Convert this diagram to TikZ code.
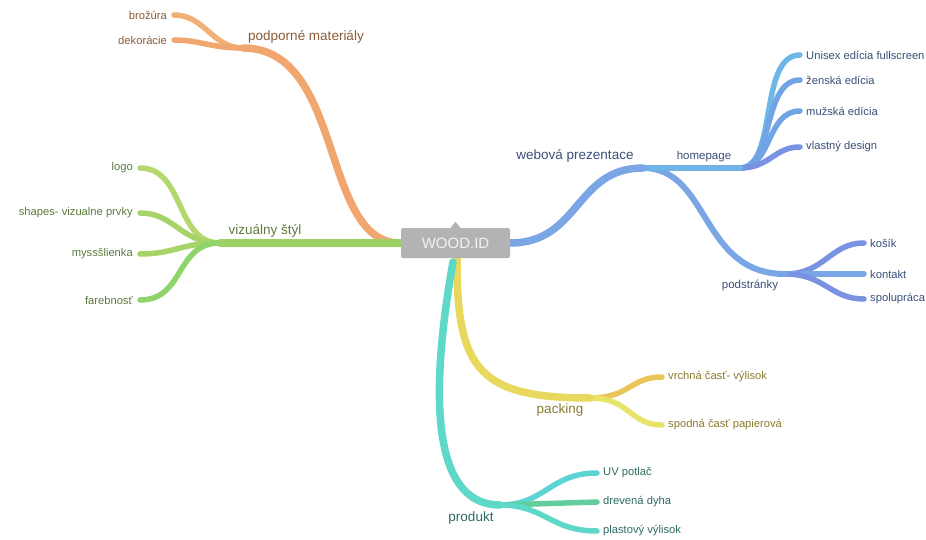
\documentclass[tikz,border=0pt]{standalone}
\usepackage{fontspec}
\setmainfont{Liberation Sans}
\usepackage{tikz}
\usetikzlibrary{arrows.meta,positioning}
\definecolor{RootGray}{RGB}{179,179,179}
\definecolor{RootText}{RGB}{242,242,242}
\definecolor{SoftOrange}{RGB}{240,166,110}
\definecolor{LightOrange}{RGB}{242,176,118}
\definecolor{BrownText}{RGB}{140,90,52}
\definecolor{MainGreen}{RGB}{156,210,100}
\definecolor{LimeGreen}{RGB}{180,216,110}
\definecolor{LeafGreen}{RGB}{166,212,104}
\definecolor{DeepGreen}{RGB}{142,212,106}
\definecolor{GreenText}{RGB}{92,122,60}
\definecolor{MainBlue}{RGB}{122,166,230}
\definecolor{SkyBlue}{RGB}{110,184,232}
\definecolor{MidBlue}{RGB}{112,164,228}
\definecolor{PurpleBlue}{RGB}{122,146,226}
\definecolor{BlueText}{RGB}{58,79,122}
\definecolor{MainYellow}{RGB}{232,216,94}
\definecolor{GoldYellow}{RGB}{234,198,90}
\definecolor{PaleYellow}{RGB}{232,228,106}
\definecolor{YellowText}{RGB}{138,123,46}
\definecolor{MainTeal}{RGB}{94,216,200}
\definecolor{CyanTeal}{RGB}{92,212,212}
\definecolor{MintGreen}{RGB}{98,206,158}
\definecolor{TealText}{RGB}{46,107,98}

\begin{document}
\begin{tikzpicture}[x=1pt, y=-1pt,
    mainbranch/.style={line width=7.5pt, line cap=round},
    subbranch/.style={line width=6pt, line cap=round},
    leafbranch/.style={line width=5.5pt, line cap=round},
    mainlabel/.style={font=\fontsize{13.5}{16}\selectfont, inner sep=0pt},
    sublabel/.style={font=\fontsize{11.5}{14}\selectfont, inner sep=0pt},
    leaf/.style={font=\fontsize{11.2}{13}\selectfont, inner sep=0pt}]
    \useasboundingbox (0,0) rectangle (926,540);

    \coordinate (podj) at (243,48);
    \coordinate (vizj) at (220,243);
    \coordinate (webj) at (643,168);
    \coordinate (homej) at (740,168);
    \coordinate (podstj) at (785,274);
    \coordinate (packj) at (590,398);
    \coordinate (prodj) at (500,505);

    \node [mainlabel, text=BrownText] (podporne) at (306,37) {podporné materiály};
    \node [leaf, text=BrownText, anchor=east] (brozura) at (167,15) {brožúra};
    \node [leaf, text=BrownText, anchor=east] (dekoracie) at (167,40) {dekorácie};

    \node [mainlabel, text=GreenText] (vizualny) at (265,231) {vizuálny štýl};
    \node [leaf, text=GreenText, anchor=east] (logo) at (133,168) {logo};
    \node [leaf, text=GreenText, anchor=east] (shapes) at (133,213) {shapes- vizualne prvky};
    \node [leaf, text=GreenText, anchor=east] (myslienka) at (133,254) {myssšlienka};
    \node [leaf, text=GreenText, anchor=east] (farebnost) at (133,300) {farebnosť};

    \node [mainlabel, text=BlueText] (webova) at (575,156) {webová prezentace};
    \node [sublabel, text=BlueText] (homepage) at (704,157) {homepage};
    \node [leaf, text=BlueText, anchor=west] (unisex) at (806,55) {Unisex edícia fullscreen};
    \node [leaf, text=BlueText, anchor=west] (zenska) at (806,80) {ženská edícia};
    \node [leaf, text=BlueText, anchor=west] (muzska) at (806,111) {mužská edícia};
    \node [leaf, text=BlueText, anchor=west] (vlastny) at (806,147) {vlastný design};
    \node [sublabel, text=BlueText] (podstranky) at (750,285) {podstránky};
    \node [leaf, text=BlueText, anchor=west] (kosik) at (870,243) {košík};
    \node [leaf, text=BlueText, anchor=west] (kontakt) at (870,274) {kontakt};
    \node [leaf, text=BlueText, anchor=west] (spolupraca) at (870,299) {spolupráca};

    \node [mainlabel, text=YellowText] (packing) at (560,410) {packing};
    \node [leaf, text=YellowText, anchor=west] (vrchna) at (668,377) {vrchná časť- výlisok};
    \node [leaf, text=YellowText, anchor=west] (spodna) at (668,425) {spodná časť papierová};

    \node [mainlabel, text=TealText] (produkt) at (471,518) {produkt};
    \node [leaf, text=TealText, anchor=west] (uvpotlac) at (603,473) {UV potlač};
    \node [leaf, text=TealText, anchor=west] (drevena) at (603,502) {drevená dyha};
    \node [leaf, text=TealText, anchor=west] (plastovy) at (603,531) {plastový výlisok};

    \draw [leafbranch, LightOrange] (podj) .. controls (212,48) and (205,15) .. ([xshift=7pt]brozura.east);
    \draw [leafbranch, SoftOrange] (podj) .. controls (210,48) and (200,40) .. ([xshift=7pt]dekoracie.east);
    \draw [mainbranch, SoftOrange] (455,243) -- (400,243) .. controls (320,243) and (345,48) .. (podj);

    \draw [leafbranch, LimeGreen] (vizj) .. controls (175,243) and (185,168) .. ([xshift=7pt]logo.east);
    \draw [leafbranch, LeafGreen] (vizj) .. controls (180,243) and (175,213) .. ([xshift=7pt]shapes.east);
    \draw [leafbranch, LeafGreen] (vizj) .. controls (180,243) and (175,254) .. ([xshift=7pt]myslienka.east);
    \draw [leafbranch, DeepGreen] (vizj) .. controls (175,243) and (185,300) .. ([xshift=7pt]farebnost.east);
    \draw [mainbranch, MainGreen] (400,243) -- (vizj);

    \draw [leafbranch, SkyBlue] (homej) .. controls (778,168) and (758,55) .. ([xshift=-6pt]unisex.west);
    \draw [leafbranch, MidBlue] (homej) .. controls (774,168) and (762,80) .. ([xshift=-6pt]zenska.west);
    \draw [leafbranch, MidBlue] (homej) .. controls (772,168) and (766,111) .. ([xshift=-6pt]muzska.west);
    \draw [leafbranch, PurpleBlue] (homej) .. controls (770,168) and (774,147) .. ([xshift=-6pt]vlastny.west);
    \draw [leafbranch, PurpleBlue] (podstj) .. controls (825,274) and (830,243) .. ([xshift=-6pt]kosik.west);
    \draw [leafbranch, MainBlue] (podstj) -- ([xshift=-6pt]kontakt.west);
    \draw [leafbranch, PurpleBlue] (podstj) .. controls (825,274) and (830,299) .. ([xshift=-6pt]spolupraca.west);
    \draw [subbranch, MainBlue] (webj) .. controls (710,168) and (700,274) .. (podstj);
    \draw [subbranch, SkyBlue!70!MainBlue] (webj) -- (homej);
    \draw [mainbranch, MainBlue] (510,243) .. controls (580,243) and (575,168) .. (webj);

    \draw [leafbranch, GoldYellow] (packj) .. controls (630,398) and (630,377) .. ([xshift=-6pt]vrchna.west);
    \draw [leafbranch, PaleYellow] (packj) .. controls (630,398) and (630,425) .. ([xshift=-6pt]spodna.west);
    \draw [mainbranch, MainYellow] (457,250) -- (457,262) .. controls (457,370) and (480,398) .. (packj);

    \draw [leafbranch, CyanTeal] (prodj) .. controls (545,505) and (550,473) .. ([xshift=-6pt]uvpotlac.west);
    \draw [leafbranch, MintGreen] (prodj) -- ([xshift=-6pt]drevena.west);
    \draw [leafbranch, MainTeal] (prodj) .. controls (545,505) and (550,531) .. ([xshift=-6pt]plastovy.west);
    \draw [mainbranch, MainTeal] (453,262) .. controls (425,420) and (440,505) .. (prodj);

    \node [draw=none, fill=RootGray, text=RootText, rounded corners=2pt, minimum width=109pt, minimum height=30pt, font=\fontsize{15}{18}\selectfont] (root) at (455.5,243) {WOOD.ID};
    \fill [RootGray] ([xshift=-5pt]root.north) -- ([yshift=6pt]root.north) -- ([xshift=5pt]root.north) -- cycle;
\end{tikzpicture}
\end{document}
